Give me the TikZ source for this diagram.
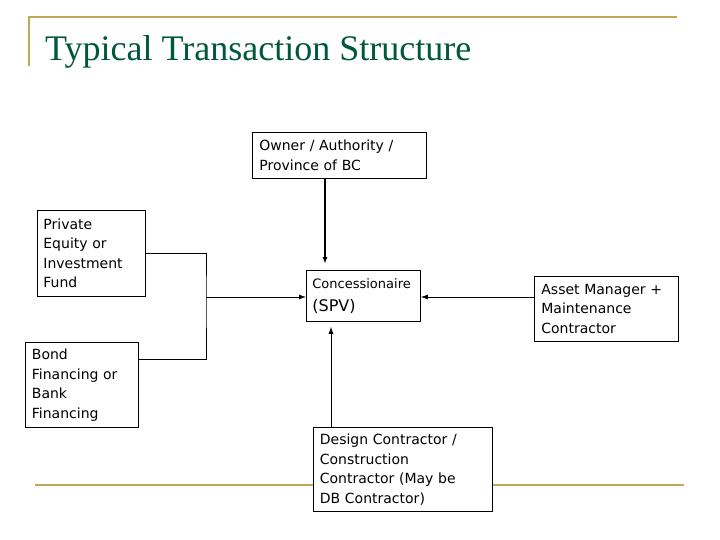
\documentclass[tikz,border=0pt]{standalone}
\usepackage{fontspec}
\setmainfont{DejaVu Sans}
\newfontfamily\titlefont{Liberation Serif}
\usepackage{tikz}
\usetikzlibrary{positioning, arrows.meta, calc}

\definecolor{rulegold}{RGB}{190,170,85}
\definecolor{titlegreen}{RGB}{0,88,58}

\tikzset{
    party/.style={draw, thick, fill=white, anchor=north west, align=left,
        inner xsep=6, inner ysep=0, font=\fontsize{14}{19.5}\selectfont},
    flow/.style={->, >={Latex[length=7,width=5]}, line width=0.8},
    goldrule/.style={draw=rulegold, line width=2.5}
}

\begin{document}
\begin{tikzpicture}[x=1pt, y=-1pt]
    \useasboundingbox (0,0) rectangle (720,540);

    % Title and rules
    \draw[goldrule] (29,66) -- (29,17) -- (677,17);
    \draw[goldrule] (35,485) -- (684,485);
    \node[anchor=base west, text=titlegreen, inner sep=0,
        font=\titlefont\fontsize{36}{42}\selectfont] (title) at (45,61)
        {Typical Transaction Structure};

    % Boxes
    \node[party, minimum width=174, minimum height=46, text width=160] (owner) at (252,132)
        {Owner / Authority /\\Province of BC};
    \node[party, minimum width=108, minimum height=86, text width=96] (equity) at (37,210)
        {Private\\Equity or\\Investment\\Fund};
    \node[party, minimum width=113, minimum height=85, text width=100] (bond) at (25,342)
        {Bond\\Financing or\\Bank\\Financing};
    \node[party, minimum width=114, minimum height=51, text width=102] (spv) at (306,270)
        {{\fontsize{13}{16}\selectfont Concessionaire}\\[3pt]{\fontsize{16}{18}\selectfont (SPV)}};
    \node[party, minimum width=144, minimum height=65, text width=130] (asset) at (534,276)
        {Asset Manager +\\Maintenance\\Contractor};
    \node[party, minimum width=179, minimum height=84, text width=166] (design) at (313,427)
        {Design Contractor /\\Construction\\Contractor (May be\\DB Contractor)};

    % Junction for the financing lines
    \coordinate (bondout) at ($(bond.north east)+(0,17)$);
    \coordinate (join) at (206,297);

    % Arrows
    \draw[line width=0.8] (equity.east) -| (join) |- (bondout);
    \draw[flow] (join) -- (join -| spv.west);
    \draw[flow, line width=1.4, shorten >=6] (owner.south -| 325,0) -- (spv.north -| 325,0);
    \draw[flow] (asset.west |- join) -- (spv.east |- join);
    \draw[flow, shorten >=5] (design.north -| 331,0) -- (spv.south -| 331,0);
\end{tikzpicture}
\end{document}
